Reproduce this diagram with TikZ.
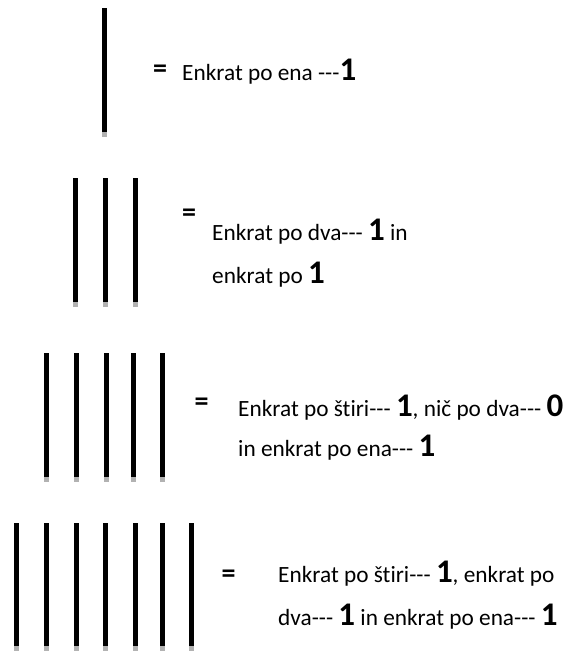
\documentclass[tikz,border=0pt]{standalone}
\usepackage{fontspec}
\setmainfont{Carlito}[Ligatures=NoCommon]
\newcommand\bignum[1]{{\fontsize{33}{33}\selectfont\bfseries #1}}
\newcommand\dsh{\mbox{-}\mbox{-}\mbox{-}}
\tikzset{
  tally/.style={line width=5pt,black},
  tallytip/.style={line width=5pt,gray!60},
  eqsign/.style={inner sep=0pt,font=\fontsize{28}{28}\selectfont\bfseries},
  txt/.style={anchor=base west,inner sep=0pt,font=\fontsize{23.3}{28}\selectfont}
}
\newcommand\tallyset[3]{% #1 list of x, #2 top, #3 bottom
  \foreach \xx in {#1} {
    \draw[tally] (\xx,#2) -- (\xx,#3-5);
    \draw[tallytip] (\xx,#3-5) -- (\xx,#3);
  }}
\begin{document}
\begin{tikzpicture}[x=1pt,y=-1pt]
\useasboundingbox (0,0) rectangle (575,651);
% group 1
\tallyset{104.5}{8}{137}
\node[eqsign] (e1) at (160,71) {=};
\node[txt] (t1) at (182,80) {Enkrat po ena \dsh\bignum{1}};
% group 2
\tallyset{75.7,105,135}{178}{307}
\node[eqsign] (e2) at (189,215) {=};
\node[txt] (t2a) at (212,240) {Enkrat po dva\dsh{} \bignum{1} in};
\node[txt] (t2b) at (212,283) {enkrat po \bignum{1}};
% group 3
\tallyset{46.7,76.7,106,133.3,162.3}{353}{482}
\node[eqsign] (e3) at (201.5,404.5) {=};
\node[txt] (t3a) at (238,416) {Enkrat po štiri\dsh{} \bignum{1}, nič po dva\dsh{} \bignum{0}};
\node[txt] (t3b) at (238,456) {in enkrat po ena\dsh{} \bignum{1}};
% group 4
\tallyset{16.7,46.7,76,105,135,162.3,191}{523}{651}
\node[eqsign] (e4) at (228.5,576) {=};
\node[txt] (t4a) at (278,582) {Enkrat po štiri\dsh{} \bignum{1}, enkrat po};
\node[txt] (t4b) at (278,625) {dva\dsh{} \bignum{1} in enkrat po ena\dsh{} \bignum{1}};
\end{tikzpicture}
\end{document}
